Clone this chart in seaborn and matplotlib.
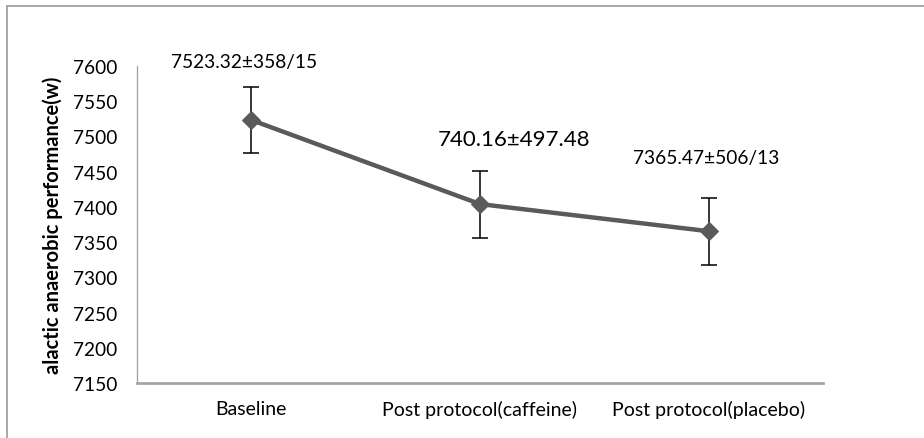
import matplotlib
matplotlib.use("Agg")
import matplotlib.pyplot as plt
import seaborn as sns
import pandas as pd
from matplotlib.lines import Line2D

categories = ["Baseline", "Post protocol(caffeine)", "Post protocol(placebo)"]
means = [7523.32, 7404.0, 7365.47]
errors = [47.5, 47.5, 47.5]
labels = ["7523.32±358/15", "740.16±497.48", "7365.47±506/13"]
yticks = [7150, 7200, 7250, 7300, 7350, 7400, 7450, 7500, 7550, 7600]

df = pd.DataFrame({"group": categories, "value": means})

sns.set_theme(style="white")
plt.rcParams["font.family"] = ["Lato", "DejaVu Sans"]

fig = plt.figure(figsize=(9.24, 4.39), dpi=100)
ax = fig.add_axes([137/924, 1-384/439, 686/924, 317/439])

ax.errorbar(categories, means, yerr=errors, fmt="none", ecolor="black",
            elinewidth=1.1, capsize=5.5, capthick=1.1, zorder=2)
sns.lineplot(data=df, x="group", y="value", ax=ax, color="#5a5a5a",
             linewidth=3.2, marker="D", markersize=9.5, markeredgecolor="#5a5a5a",
             sort=False, zorder=3)

ax.set_xlim(-0.5, 2.5)
ax.set_ylim(7150, 7600)
ax.set_yticks(yticks)
ax.set_xlabel("")
ax.set_ylabel("alactic anaerobic performance(w)", fontsize=14.5, fontweight="bold",
              color="black")
ax.yaxis.set_label_coords((63-137)/686, 0.5)

ax.tick_params(axis="y", length=0, pad=14, labelsize=13.8, labelcolor="black")
ax.tick_params(axis="x", length=0, pad=12, labelsize=14, labelcolor="black")

for s in ["top", "right"]:
    ax.spines[s].set_visible(False)
ax.spines["left"].set_color("#a6a6a6")
ax.spines["left"].set_linewidth(1.0)
ax.spines["bottom"].set_color("#a6a6a6")
ax.spines["bottom"].set_linewidth(2.0)

# annotations
ax.text(-0.032, 7607, labels[0], ha="center", va="center", fontsize=13.8, color="black")
ax.text(1.149, 7496, labels[1], ha="center", va="center", fontsize=16, color="black")
ax.text(1.988, 7470.7, labels[2], ha="center", va="center", fontsize=13.8, color="black")

# outer chart frame
fig.add_artist(Line2D([7/924, 1.0], [1-7/439, 1-7/439], transform=fig.transFigure,
                      color="#9a9a9a", linewidth=1.2))
fig.add_artist(Line2D([7/924, 7/924], [0.0, 1-7/439], transform=fig.transFigure,
                      color="#9a9a9a", linewidth=1.2))

fig.savefig("out.png", dpi=100)
